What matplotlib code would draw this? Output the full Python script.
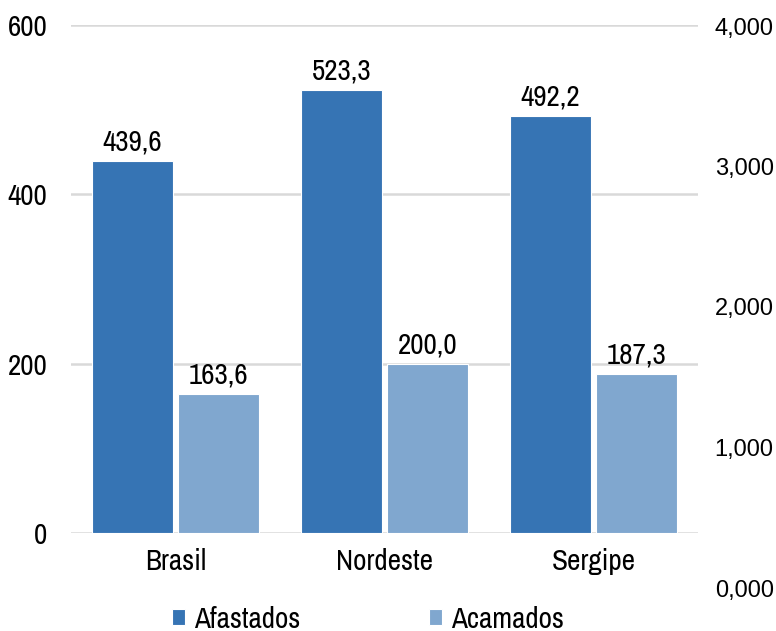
import matplotlib
matplotlib.use("Agg")
import matplotlib.pyplot as plt
import numpy as np

categories = ["Brasil", "Nordeste", "Sergipe"]
afastados = [439.6, 523.3, 492.2]
acamados = [163.6, 200.0, 187.3]
left_ticks = [0, 200, 400, 600]
right_ticks = [0, 1, 2, 3, 4]

plt.rcParams['font.family'] = ['Archivo Narrow', 'Liberation Sans', 'DejaVu Sans']

dark = "#3674B4"
light = "#80A7CF"
grid = "#D9D9D9"

fig = plt.figure(figsize=(7.76, 6.31), dpi=100)
W, H = 776, 631

ax = fig.add_axes([71 / W, (H - 533) / H, 627 / W, 508 / H])
x = np.arange(len(categories))
bw = 0.39
off = 0.206
b1 = ax.bar(x - off, afastados, bw, color=dark, edgecolor="white", linewidth=0.8, label="Afastados", zorder=3)
b2 = ax.bar(x + off, acamados, bw, color=light, edgecolor="white", linewidth=0.8, label="Acamados", zorder=3)

for bars, vals in ((b1, afastados), (b2, acamados)):
    for r, v in zip(bars, vals):
        ax.annotate(f"{v:.1f}".replace(".", ","), (r.get_x() + r.get_width() / 2, v),
                    xytext=(0, 4), textcoords="offset points", ha="center", va="bottom",
                    fontsize=21)

ax.set_xlim(-0.5, 2.5)
ax.set_ylim(0, 600)
ax.set_yticks(left_ticks)
ax.set_xticks(x)
ax.set_xticklabels(categories)
ax.tick_params(axis="both", length=0, labelsize=21)
ax.tick_params(axis="x", pad=11)
ax.tick_params(axis="y", pad=17)
ax.yaxis.grid(True, color=grid, linewidth=1.8, zorder=0)
for s in ax.spines.values():
    s.set_visible(False)

# secondary scale on the right
ax2 = fig.add_axes([71 / W, (H - 588) / H, 627 / W, 562 / H])
ax2.patch.set_visible(False)
ax2.set_ylim(0, 4)
ax2.set_yticks(right_ticks)
ax2.set_yticklabels([f"{v:,.3f}".replace(".", ",") for v in right_ticks], family="Liberation Sans")
ax2.yaxis.tick_right()
ax2.tick_params(axis="y", length=0, labelsize=17, pad=12)
ax2.set_xticks([])
for s in ax2.spines.values():
    s.set_visible(False)

fig.legend(handles=[b1, b2], loc="center", bbox_to_anchor=(0.474, 1 - 619 / H), ncol=2,
           frameon=False, fontsize=21, handlelength=0.45, handleheight=0.45,
           handletextpad=0.3, columnspacing=4.4)

fig.savefig("out.png", dpi=100)
